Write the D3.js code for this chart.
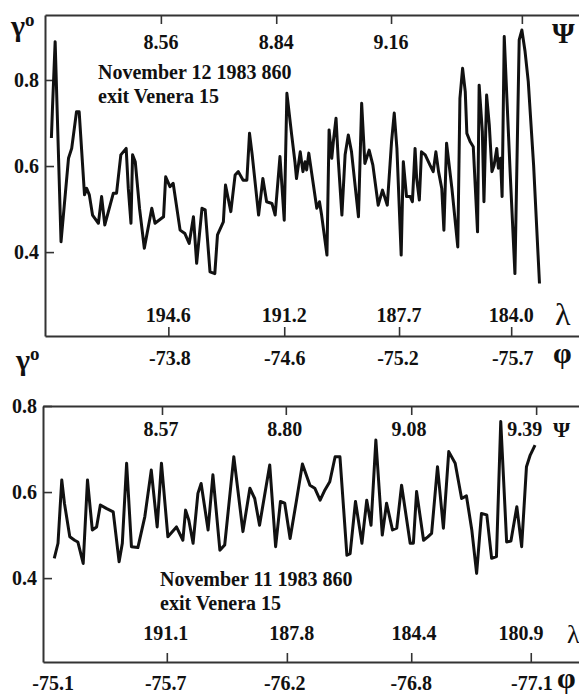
<!DOCTYPE html>
<html>
<head>
<meta charset="utf-8">
<script src="https://cdn.jsdelivr.net/npm/d3@7"></script>
<style>
  body { margin: 0; background: #fff; }
</style>
</head>
<body>
<div id="chart"></div>
<script>
// position along the track (0-100 across the frame) and scattering coefficient
const topTrack = [1.2,1.4,1.9,3.0,4.4,5.0,5.9,6.4,7.4,7.8,8.3,8.9,10.0,10.6,11.2,12.8,13.4,14.2,15.2,15.6,
  16.1,16.4,16.9,17.7,18.6,20.0,20.6,22.2,22.6,23.4,24.0,25.3,26.2,27.0,27.8,28.4,29.4,30.0,30.9,31.8,
  32.3,33.4,33.8,34.8,35.6,36.2,37.1,37.8,38.3,38.8,40.0,40.8,41.5,42.5,43.1,44.0,44.8,45.3,46.2,46.8,
  47.1,47.8,48.3,48.7,49.0,49.4,49.9,50.9,51.4,51.8,52.8,53.2,53.7,54.0,54.5,54.9,55.6,56.2,56.8,57.4,
  58.7,59.3,59.9,60.7,61.4,62.4,63.2,64.1,64.9,65.4,65.9,66.7,67.1,67.7,68.4,68.8,69.3,69.6,70.1,70.5,
  71.2,72.1,72.7,73.2,73.7,74.3,74.7,75.2,76.2,77.3,77.7,78.2,78.7,79.0,79.6,80.2,81.0,81.3,81.9,82.2,
  82.7,83.2,83.7,84.1,84.6,84.9,85.3,85.6,86.0,86.5,87.1,88.0,88.8,89.3,89.9,90.5,91.5,92.6];
const topGamma = [0.665,0.735,0.889,0.424,0.618,0.641,0.726,0.726,0.533,0.548,0.533,0.486,0.467,0.529,0.463,0.537,0.537,0.626,0.641,0.548,
  0.467,0.626,0.610,0.502,0.409,0.502,0.467,0.482,0.575,0.552,0.560,0.451,0.443,0.420,0.482,0.374,0.502,0.498,0.354,0.350,
  0.440,0.470,0.556,0.494,0.579,0.587,0.567,0.567,0.676,0.626,0.486,0.571,0.517,0.513,0.486,0.622,0.474,0.769,0.672,0.610,
  0.571,0.633,0.587,0.610,0.591,0.630,0.587,0.502,0.517,0.486,0.393,0.684,0.618,0.657,0.711,0.618,0.486,0.626,0.672,0.633,
  0.482,0.746,0.606,0.637,0.602,0.509,0.544,0.509,0.657,0.723,0.641,0.393,0.610,0.529,0.529,0.517,0.641,0.571,0.521,0.633,
  0.626,0.602,0.587,0.633,0.587,0.548,0.451,0.653,0.548,0.412,0.757,0.827,0.773,0.676,0.657,0.645,0.447,0.788,0.680,0.517,
  0.765,0.695,0.587,0.602,0.641,0.595,0.618,0.529,0.901,0.757,0.587,0.350,0.893,0.916,0.866,0.796,0.602,0.327];

const bottomTrack = [2.1,2.8,3.5,4.0,5.0,5.9,6.5,7.5,8.3,9.2,10.0,10.7,11.8,13.1,14.2,14.8,15.6,16.5,17.7,19.0,
  20.2,21.3,22.1,23.3,24.9,26.1,26.6,27.2,28.0,28.9,29.5,30.8,31.7,33.0,33.9,35.6,37.3,38.6,39.5,40.4,
  42.3,43.4,44.3,45.1,46.1,47.3,48.4,49.8,50.7,51.7,52.6,53.5,54.5,55.4,56.7,57.3,58.3,59.5,60.4,61.2,
  62.1,63.3,64.1,65.2,66.0,66.9,68.5,69.1,69.7,71.0,71.8,72.5,73.6,74.7,75.7,76.9,78.1,79.0,80.0,80.9,
  81.8,82.8,83.7,84.6,85.4,86.5,87.3,88.4,89.3,90.2,90.9,91.8];
const bottomGamma = [0.446,0.481,0.628,0.574,0.496,0.488,0.484,0.434,0.628,0.512,0.519,0.570,0.562,0.554,0.438,0.481,0.667,0.473,0.471,0.543,
  0.651,0.519,0.667,0.496,0.519,0.488,0.558,0.535,0.481,0.597,0.620,0.512,0.640,0.465,0.477,0.682,0.508,0.609,0.585,0.523,
  0.663,0.473,0.578,0.574,0.492,0.581,0.665,0.616,0.609,0.581,0.605,0.624,0.682,0.682,0.453,0.457,0.578,0.481,0.581,0.523,
  0.721,0.500,0.574,0.512,0.516,0.616,0.481,0.481,0.601,0.488,0.496,0.504,0.659,0.516,0.694,0.667,0.585,0.591,0.512,0.411,
  0.550,0.547,0.446,0.450,0.764,0.484,0.486,0.566,0.473,0.659,0.686,0.709];

const gammaTicks = [0.4, 0.6, 0.8];

// top panel: November 12
const topPsi = ["8.56", "8.84", "9.16", ""];
const topPsiAt = [21.7, 43.3, 64.8, 89.3];
const topLambda = ["194.6", "191.2", "187.7", "184.0"];
const topLambdaAt = [23.1, 44.8, 66.3, 87.3];
const topPhi = ["-73.8", "-74.6", "-75.2", "-75.7"];
const topPhiAt = [23.4, 44.9, 66.1, 87.6];

// bottom panel: November 11
const bottomPsi = ["8.57", "8.80", "9.08", "9.39"];
const bottomPsiAt = [22.2, 45.3, 68.7, 92.0];
const bottomPsiLabelAt = [22.0, 45.1, 68.3, 89.9];
const bottomLambda = ["191.1", "187.8", "184.4", "180.9"];
const bottomLambdaAt = [23.1, 45.5, 68.7, 91.0];
const bottomLambdaLabelAt = [22.9, 46.4, 69.2, 89.2];
const bottomPhi = ["-75.1", "-75.7", "-76.2", "-76.8", "-77.1"];
const bottomPhiAt = [1.9, 22.9, 45.1, 68.7, 91.2];

const W = 579, H = 695;
const serif = "'Liberation Serif', 'Times New Roman', Times, 'DejaVu Serif', serif";

const svg = d3.select("#chart").append("svg")
  .attr("width", W).attr("height", H)
  .style("font-family", serif)
  .style("font-weight", "bold");

function txt(sel) {
  return sel.style("font-family", serif).style("font-weight", "bold").attr("fill", "#111");
}

function styleAxis(g) {
  g.attr("font-family", serif).attr("font-size", null);
  g.select(".domain").attr("stroke", "#333").attr("stroke-width", 2);
  g.selectAll(".tick line").attr("stroke", "#333").attr("stroke-width", 1.6);
  g.selectAll(".tick text").call(txt).style("font-size", "20px");
}

function labelRow(values, at, x, yPos) {
  svg.append("g")
    .selectAll("text")
    .data(values)
    .join("text")
    .call(txt)
    .attr("x", (d, i) => x(at[i]))
    .attr("y", yPos)
    .attr("text-anchor", "middle")
    .style("font-size", "20px")
    .text((d) => d);
}

function drawPanel(p) {
  const x = d3.scaleLinear().domain([0, 100]).range([p.left, W]);
  const y = d3.scaleLinear().domain(p.yDomain).range([p.bottom, p.top]);

  // left axis
  svg.append("g")
    .attr("transform", `translate(${p.left},0)`)
    .call(d3.axisLeft(y).tickValues(gammaTicks).tickSize(-9).tickSizeOuter(0)
      .tickPadding(6).tickFormat(d3.format(".1f")))
    .call(styleAxis);

  // psi ticks along the top line
  svg.append("g")
    .attr("transform", `translate(0,${p.top})`)
    .call(d3.axisTop(x).tickValues(p.psiAt).tickSize(-9).tickSizeOuter(0).tickFormat(""))
    .call(styleAxis);

  // lambda ticks along the bottom line
  svg.append("g")
    .attr("transform", `translate(0,${p.bottom})`)
    .call(d3.axisBottom(x).tickValues(p.lambdaAt).tickSize(-9).tickSizeOuter(0).tickFormat(""))
    .call(styleAxis);

  // the trace
  const data = p.track.map((t, i) => ({ t: t, g: p.gamma[i] }));
  svg.append("path")
    .datum(data)
    .attr("fill", "none")
    .attr("stroke", "#111")
    .attr("stroke-width", 3)
    .attr("stroke-linejoin", "round")
    .attr("d", d3.line().x((d) => x(d.t)).y((d) => y(d.g)));

  labelRow(p.psi, p.psiLabelAt, x, p.psiY);
  labelRow(p.lambda, p.lambdaLabelAt, x, p.lambdaY);
  labelRow(p.phi, p.phiAt, x, p.phiY);

  // annotation
  const note = svg.append("text").call(txt).attr("x", p.noteX).attr("y", p.noteY).style("font-size", "20px");
  note.append("tspan").attr("x", p.noteX).text(p.note[0]);
  note.append("tspan").attr("x", p.noteX).attr("dy", 24).text(p.note[1]);

  // symbols
  const g = svg.append("text").call(txt).attr("x", p.gammaX).attr("y", p.gammaY).style("font-size", "30px");
  g.append("tspan").text("γ");
  g.append("tspan").attr("dy", -10).style("font-size", "19px").text("o");
  svg.append("text").call(txt).attr("x", p.psiSymX).attr("y", p.psiY + p.psiSymDy)
    .style("font-size", p.psiSymSize + "px").text("Ψ");
  svg.append("text").call(txt).attr("x", p.lambdaSymX).attr("y", p.lambdaY + 3)
    .style("font-size", p.lambdaSymSize + "px").style("font-weight", "normal").text("λ");
  svg.append("text").call(txt).attr("x", p.phiSymX).attr("y", p.phiY - 2)
    .style("font-size", "30px").text("φ");
}

drawPanel({
  left: 45, top: 15, bottom: 336, yDomain: [0.205, 0.951],
  track: topTrack, gamma: topGamma,
  psi: topPsi, psiAt: topPsiAt, psiLabelAt: topPsiAt, psiY: 49,
  lambda: topLambda, lambdaAt: topLambdaAt, lambdaLabelAt: topLambdaAt, lambdaY: 322,
  phi: topPhi, phiAt: topPhiAt, phiY: 365,
  note: ["November 12 1983 860", "exit Venera 15"], noteX: 98, noteY: 79,
  gammaX: 11, gammaY: 36,
  psiSymX: 552, psiSymDy: -6, psiSymSize: 29,
  lambdaSymX: 555, lambdaSymSize: 32,
  phiSymX: 553
});

drawPanel({
  left: 43, top: 406, bottom: 662, yDomain: [0.205, 0.8],
  track: bottomTrack, gamma: bottomGamma,
  psi: bottomPsi, psiAt: bottomPsiAt, psiLabelAt: bottomPsiLabelAt, psiY: 436,
  lambda: bottomLambda, lambdaAt: bottomLambdaAt, lambdaLabelAt: bottomLambdaLabelAt, lambdaY: 640,
  phi: bottomPhi, phiAt: bottomPhiAt, phiY: 690,
  note: ["November 11 1983 860", "exit Venera 15"], noteX: 160, noteY: 586,
  gammaX: 16, gammaY: 370,
  psiSymX: 553, psiSymDy: 1, psiSymSize: 22,
  lambdaSymX: 567, lambdaSymSize: 26,
  phiSymX: 557
});
</script>
</body>
</html>
